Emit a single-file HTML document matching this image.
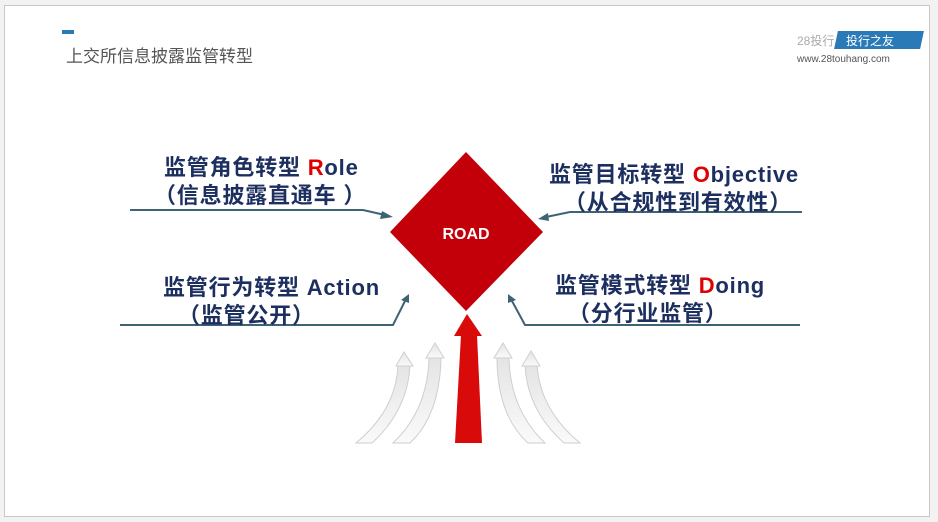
<!DOCTYPE html>
<html><head><meta charset="utf-8"><style>
html,body{margin:0;padding:0;background:#f2f2f2;}
body{width:938px;height:522px;position:relative;overflow:hidden;font-family:"Liberation Sans","Noto Sans CJK SC",sans-serif;}
.slide{position:absolute;left:4px;top:5px;width:924px;height:510px;background:#fff;border:1px solid #c8c8c8;}
.t{position:absolute;color:#1c2f5f;font-weight:bold;font-size:22px;letter-spacing:0.8px;white-space:nowrap;font-family:"Liberation Sans","Noto Sans CJK SC",sans-serif;}
.r{color:#e00000;}
</style></head><body>
<div class="slide"></div>
<div style="position:absolute;left:62px;top:30px;width:12px;height:4px;background:#2a7ab8"></div>
<div style="position:absolute;left:66px;top:42px;font-size:17px;color:#555;">上交所信息披露监管转型</div>
<div style="position:absolute;left:797px;top:32px;font-size:12px;color:#aaa;">28投行</div>
<div style="position:absolute;left:836px;top:31px;width:86px;height:18px;background:#2a7ab8;transform:skewX(-12deg);"></div>
<div style="position:absolute;left:846px;top:32px;font-size:12px;color:#fff;">投行之友</div>
<div style="position:absolute;left:797px;top:54px;font-size:10px;color:#555;">www.28touhang.com</div>

<svg style="position:absolute;left:0;top:0" width="938" height="522">
<defs>
<linearGradient id="wg" x1="0" y1="0" x2="0" y2="1"><stop offset="0" stop-color="#e4e4e4"/><stop offset="1" stop-color="#fafafa"/></linearGradient>
</defs>
<g fill="url(#wg)" stroke="#cfcfcf" stroke-width="1">
<path d="M398,365 L410,365 Q408,410 372,443 L356,443 Q396,410 398,365 Z"/>
<path d="M396,366 L404,352 L413,366 Z"/>
<path d="M429,357 L441,357 Q440,415 410,443 L393,443 Q428,410 429,357 Z"/>
<path d="M426,358 L435,343 L444,358 Z"/>
<path d="M497,357 L509,357 Q510,410 545,443 L528,443 Q497,415 497,357 Z"/>
<path d="M494,358 L503,343 L512,358 Z"/>
<path d="M525,365 L537,365 Q540,410 580,443 L564,443 Q527,410 525,365 Z"/>
<path d="M522,366 L531,351 L540,366 Z"/>
</g>
<path d="M461,335 L477,335 L482,443 L455,443 Z" fill="#d90a0a"/>
<path d="M454,336 L467,314 L482,336 Z" fill="#d90a0a"/>
<polygon points="466,152 543,232 466,311 390,232" fill="#c3000a"/>
<text x="466" y="239" fill="#fff" font-size="16" font-weight="bold" text-anchor="middle" font-family="Liberation Sans,sans-serif">ROAD</text>
<g stroke="#3e6374" stroke-width="2" fill="none">
<polyline points="130,210 363,210 385,215"/>
<polyline points="802,212 570,212 546,217"/>
<polyline points="120,325 393,325 405,301"/>
<polyline points="800,325 525,325 512,301"/>
</g>
<g fill="#3e6374">
<polygon points="393,217 382,211 380,219"/>
<polygon points="538,219 548,213 549,221"/>
<polygon points="409,294 401,300 409,303"/>
<polygon points="508,294 508,303 516,300"/>
</g>
</svg>

<div class="t" style="left:164px;top:150px;">监管角色转型 <span class="r">R</span>ole</div>
<div class="t" style="left:154px;top:178px;">（信息披露直通车 ）</div>
<div class="t" style="left:163px;top:270px;">监管行为转型 Action</div>
<div class="t" style="left:178px;top:298px;">（监管公开）</div>
<div class="t" style="left:549px;top:157px;">监管目标转型 <span class="r">O</span>bjective</div>
<div class="t" style="left:564px;top:185px;">（从合规性到有效性）</div>
<div class="t" style="left:555px;top:268px;">监管模式转型 <span class="r">D</span>oing</div>
<div class="t" style="left:568px;top:296px;">（分行业监管）</div>
</body></html>
